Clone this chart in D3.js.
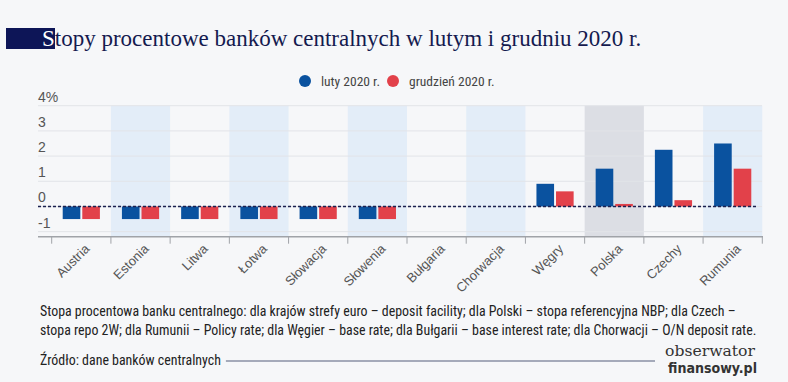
<!DOCTYPE html>
<html><head><meta charset="utf-8">
<script src="https://cdn.jsdelivr.net/npm/d3@7"></script>
<style>
html,body{margin:0;padding:0;background:#f6f7f9;}
svg{display:block;}
</style></head>
<body>
<script>
const categories = ["Austria","Estonia","Litwa","Łotwa","Słowacja","Słowenia","Bułgaria","Chorwacja","Węgry","Polska","Czechy","Rumunia"];
const series = ["luty 2020 r.","grudzień 2020 r."];
const luty2020 = [-0.5,-0.5,-0.5,-0.5,-0.5,-0.5,0,0,0.9,1.5,2.25,2.5];
const grudzien2020 = [-0.5,-0.5,-0.5,-0.5,-0.5,-0.5,0,0,0.6,0.1,0.25,1.5];
const yTicks = [-1,0,1,2,3,4];
const yTickLabels = ["-1","0","1","2","3","4%"];
const colors = ["#0a529f","#e2414a"];
const title = "Stopy procentowe banków centralnych w lutym i grudniu 2020 r.";
const note1 = "Stopa procentowa banku centralnego: dla krajów strefy euro – deposit facility; dla Polski – stopa referencyjna NBP; dla Czech –";
const note2 = "stopa repo 2W; dla Rumunii – Policy rate; dla Węgier – base rate; dla Bułgarii – base interest rate; dla Chorwacji – O/N deposit rate.";
const source = "Źródło: dane banków centralnych";

const W = 788, H = 382;
const narrow = "'Liberation Sans Narrow','Roboto Condensed','DejaVu Sans Condensed',Roboto,sans-serif";
const regular = "'Liberation Sans',Roboto,Arial,sans-serif";
const svg = d3.select("body").append("svg").attr("width",W).attr("height",H);
svg.append("rect").attr("width",W).attr("height",H).attr("fill","#f6f7f9");

// Title
svg.append("rect").attr("x",6).attr("y",28).attr("width",49).attr("height",21).attr("fill","#0d1557");
const tt = svg.append("text").attr("x",42).attr("y",46).attr("font-family","'Liberation Serif','DejaVu Serif',serif")
  .attr("font-size",23).attr("fill","#141a4f");
tt.append("tspan").attr("fill","#ffffff").text(title[0]);
tt.append("tspan").text(title.slice(1));

// Scales
const x = d3.scaleBand().domain(categories).range([51.7,762.3]);
const bw = x.bandwidth();
const xi = d3.scaleBand().domain(series).range([bw*0.186,bw*0.814]).paddingInner(0.1);
const y = d3.scaleLinear().domain([-1.2,4]).range([236.7,105.7]);
const plotTop = y(4), plotBot = y(-1.2);

// shading bands
categories.forEach((c,i)=>{
  if(i%2===1){
    svg.append("rect").attr("x",x(c)).attr("y",plotTop).attr("width",bw).attr("height",plotBot-plotTop)
      .attr("fill", c==="Polska" ? "#dcdee4" : "#e3edf8");
  }
});

// grid
svg.append("g").selectAll("line").data(yTicks).join("line")
  .attr("x1",38).attr("x2",762).attr("y1",d=>y(d)).attr("y2",d=>y(d))
  .attr("stroke","#e2e4e8").attr("stroke-width",1);

// y labels
svg.append("g").selectAll("text").data(yTicks).join("text")
  .attr("x",38).attr("y",d=>y(d)-4).attr("font-family",regular).attr("font-size",14).attr("fill","#555")
  .text((d,i)=>yTickLabels[i]);

// bars
const data = categories.map((c,i)=>({c, vals:[luty2020[i],grudzien2020[i]]}));
const g = svg.append("g");
data.forEach(d=>{
  d.vals.forEach((v,j)=>{
    if(v===0) return;
    g.append("rect").attr("x",x(d.c)+xi(series[j])).attr("width",xi.bandwidth())
      .attr("y",y(Math.max(0,v))).attr("height",Math.abs(y(v)-y(0))).attr("fill",colors[j]);
  });
});

// zero line
svg.append("line").attr("x1",38).attr("x2",758).attr("y1",y(0)).attr("y2",y(0))
  .attr("stroke","#1b2150").attr("stroke-width",1.5).attr("stroke-dasharray","3,2");

// bottom axis
svg.append("line").attr("x1",38).attr("x2",763).attr("y1",plotBot).attr("y2",plotBot).attr("stroke","#a0a3a8").attr("stroke-width",1.5);
const tickX = categories.map(c=>x(c)).concat([x.range()[1]]);
svg.append("g").selectAll("line").data(tickX).join("line")
  .attr("x1",d=>d).attr("x2",d=>d).attr("y1",plotBot).attr("y2",plotBot+7).attr("stroke","#a0a3a8").attr("stroke-width",1);

svg.append("g").selectAll("text").data(categories).join("text")
  .attr("transform",c=>`translate(${x(c)+bw/2+9},${plotBot+13}) rotate(-45)`)
  .attr("text-anchor","end").attr("font-family",regular).attr("font-size",13).attr("fill","#555")
  .text(c=>c);

// legend
const leg = [{x:305,t:series[0],c:colors[0]},{x:393,t:series[1],c:colors[1]}];
leg.forEach(l=>{
  svg.append("circle").attr("cx",l.x).attr("cy",81).attr("r",6).attr("fill",l.c);
  svg.append("text").attr("x",l.x+16).attr("y",86).attr("font-family",narrow).attr("font-size",13.5).attr("fill","#444").text(l.t);
});

// footnotes
svg.append("text").attr("x",40).attr("y",316).attr("font-family",narrow).attr("font-size",13.9).attr("fill","#222").text(note1);
svg.append("text").attr("x",40).attr("y",335).attr("font-family",narrow).attr("font-size",13.9).attr("fill","#222").text(note2);
const st = svg.append("text").attr("x",40).attr("y",365).attr("font-family",narrow).attr("font-size",13.9).attr("fill","#222").text(source);
const sw = st.node().getComputedTextLength();
svg.append("line").attr("x1",40+sw+5).attr("x2",655).attr("y1",361).attr("y2",361).attr("stroke","#8a90a4").attr("stroke-width",1.5);

// logo
svg.append("text").attr("x",665).attr("y",355.5).attr("font-family","'DejaVu Serif','Liberation Serif',serif").attr("font-size",15)
  .attr("textLength",90).attr("lengthAdjust","spacingAndGlyphs").attr("fill","#333").text("obserwator");
svg.append("text").attr("x",668).attr("y",373).attr("font-family","'DejaVu Sans Condensed','Liberation Sans Narrow',sans-serif").attr("font-weight","bold").attr("font-size",13.5)
  .attr("textLength",89).attr("lengthAdjust","spacingAndGlyphs").attr("fill","#333").text("finansowy.pl");
</script>
</body></html>
